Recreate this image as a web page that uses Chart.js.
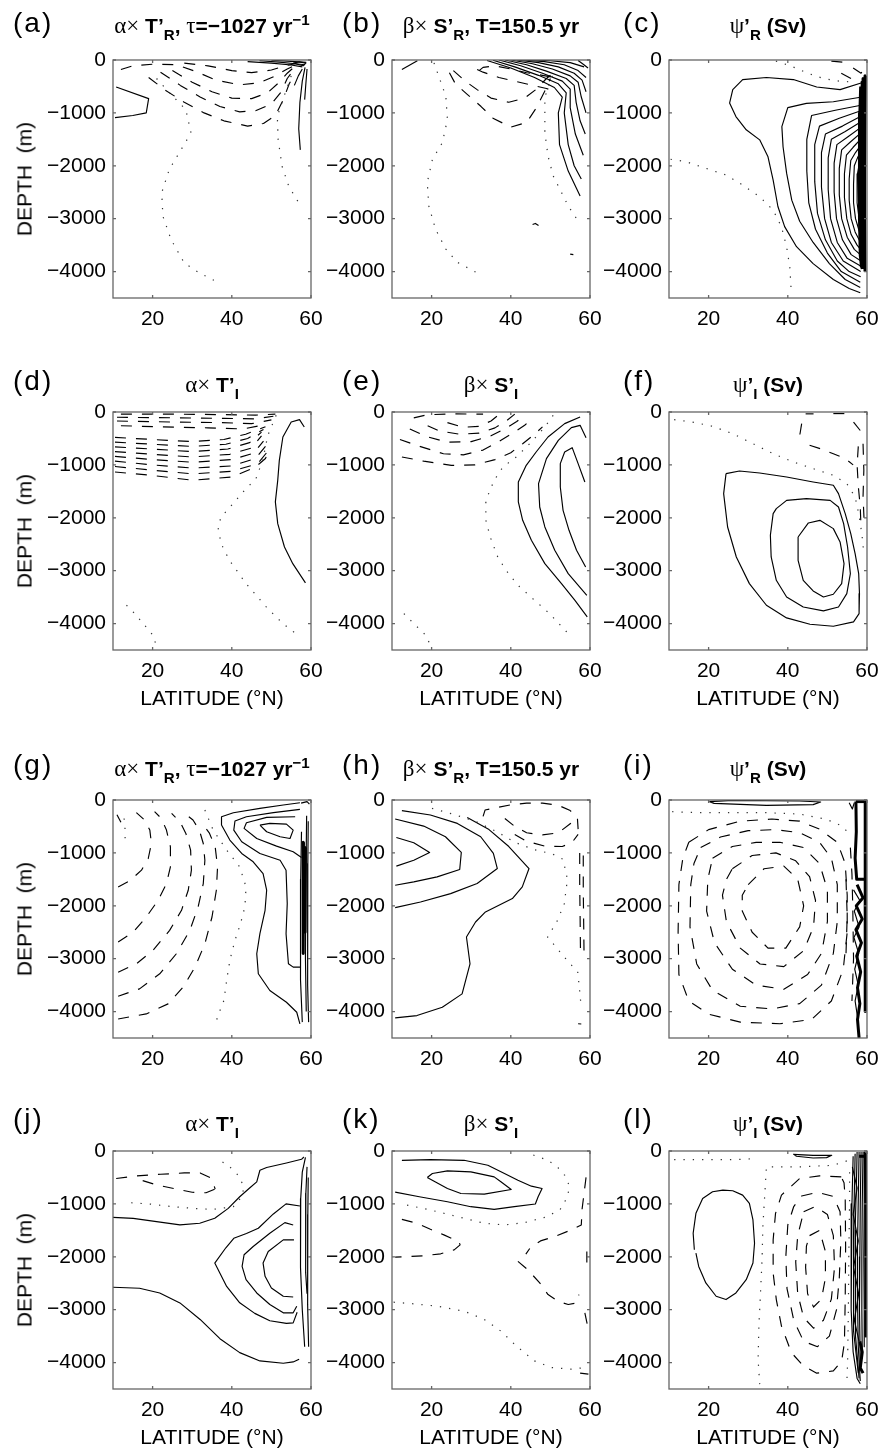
<!DOCTYPE html>
<html><head><meta charset="utf-8">
<script src="https://cdn.jsdelivr.net/npm/chart.js@4/dist/chart.umd.min.js"></script>
<style>
html,body{margin:0;padding:0;background:#fff;}
#wrap{position:relative;width:883px;height:1448px;overflow:hidden;background:#fff;}
canvas{position:absolute;}
.lbl{position:absolute;font-family:'Liberation Sans',Arial,sans-serif;font-size:28px;line-height:1;color:#000;letter-spacing:2px;}
.ttl{position:absolute;width:320px;text-align:center;font-family:'Liberation Sans',Arial,sans-serif;font-size:21px;line-height:1;white-space:nowrap;color:#000;}
.ttl b{font-weight:bold;}
.gk{font-family:'Liberation Serif','DejaVu Serif',serif;font-weight:normal;font-size:23px;}
.ttl sub{font-size:72%;vertical-align:-0.45em;line-height:0;}
.ttl sup{font-size:72%;vertical-align:0.55em;line-height:0;}
.xt{position:absolute;width:300px;text-align:center;font-family:'Liberation Sans',Arial,sans-serif;font-size:21px;line-height:1;white-space:pre;}
.yt{position:absolute;font-family:'Liberation Sans',Arial,sans-serif;font-size:21px;line-height:1;white-space:pre;transform:translate(-50%,-50%) rotate(-90deg);}
</style></head>
<body><div id="wrap"></div>
<script>
// ---------- axis ticks ----------
const latTicks = [20, 40, 60];
const depthTicks = [-4000, -3000, -2000, -1000, 0];
const panelKeys = ['a','b','c','d','e','f','g','h','i','j','k','l'];

// ---------- panel (a) ----------
const a_solid = [
 [[10.8,-510],[19,-730],[18.4,-1000],[15,-1050],[10.5,-1090]],
 [[44,-30],[50,-60],[55,-95],[57.8,-130]],
 [[47,-15],[52,-40],[56,-70],[58.5,-90]],
 [[50,-5],[54,-20],[58.8,-45]],
 [[55.5,-60],[57,-35],[58.7,-60],[58,-110],[55.5,-60]],
 [[58.5,-140],[57.8,-400],[57.2,-800],[56.9,-1300],[57.3,-1700]],
 [[59,-170],[58.7,-450],[58.4,-750]],
 [[57.8,-170],[56.8,-300],[55.8,-480]]
];
const a_dashed = [
 [[19,-330],[23,-560],[28,-800],[33,-1000],[38,-1150],[44,-1250],[48,-1200],[51,-1050],[53,-750],[54.5,-450],[56,-250]],
 [[22,-230],[27,-480],[32,-700],[37,-880],[42,-980],[46,-960],[50,-830],[52.5,-600],[54,-350],[55.5,-200]],
 [[25,-200],[30,-420],[35,-600],[40,-720],[45,-730],[49,-620],[52,-420],[54,-250],[55.5,-150]],
 [[12,-180],[15,-110],[20,-80],[26,-90],[31,-220],[36,-380],[42,-470],[47,-430],[51,-300],[54,-170],[56,-100]],
 [[28,-60],[34,-110],[40,-200],[45,-240],[50,-190],[53.5,-110],[56,-70]]
];
const a_dotted = [
 [[21,-350],[24,-600],[28.4,-940],[29.7,-1380],[27.2,-1695],[24.2,-2070],[22.3,-2510],[22.6,-2955],[24.7,-3400],[28,-3840],[31.8,-4025],[36.8,-4215]],
 [[55,-300],[53.5,-620],[51.5,-1065],[51.7,-1505],[52.7,-2010],[54.4,-2390],[56.9,-2700]]
];

// ---------- panel (b) ----------
const b_solid = [
 [[12.5,-180],[16.4,-15]],
 [[34,-10],[40,-150],[46,-330],[51,-520],[53,-700],[52,-1000],[52.3,-1600],[54.5,-2100],[57.5,-2570]],
 [[35.5,-5],[41,-130],[47,-290],[52,-450],[54,-620],[53.5,-1000],[54.5,-1600],[56,-2000],[57.8,-2250]],
 [[37,0],[42.5,-110],[48,-250],[53,-400],[55,-550],[55,-900],[56.3,-1400],[58.3,-1800]],
 [[38.5,0],[44,-90],[49,-210],[54,-350],[56,-480],[56.5,-800],[57.5,-1150],[58.8,-1400]],
 [[40,0],[45.5,-70],[50.5,-170],[55,-300],[57,-420],[57.8,-700],[59,-1000]],
 [[41.5,0],[47,-50],[52,-130],[56,-250],[58,-380],[59,-600]],
 [[43,0],[48.5,-30],[53.5,-90],[57,-200],[59,-330]],
 [[45,0],[50,-15],[55,-50],[58.5,-130]],
 [[57,-10],[58.3,-80],[59.5,-150]],
 [[45.5,-3110],[46.2,-3090],[47,-3130]]
];
const b_dashed = [
 [[24.5,-240],[26,-450],[29,-650],[32.5,-880],[35.5,-1100],[40,-1270],[44,-1180],[46.5,-900],[48.5,-600],[50,-350]],
 [[25.5,-200],[28.5,-400],[31.5,-560],[35,-720],[39.5,-800],[43.5,-720],[46.5,-550],[49,-350],[51,-230]],
 [[31.5,-180],[33,-230],[37,-330],[41,-400],[45,-470],[49,-540],[51.5,-600]],
 [[32,-200],[33,-140],[36,-110],[40,-170],[44,-240],[48,-290],[51,-330]],
 [[55,-3670],[55.8,-3680]]
];
const b_dotted = [
 [[20.6,-55],[23.6,-685],[24,-1125],[22.7,-1565],[20.2,-1880],[18.9,-2320],[19.3,-2760],[21,-3200],[23.6,-3575],[26.5,-3825],[32.5,-4065]],
 [[50.5,-300],[48.6,-700],[48.6,-1375],[49.4,-1815],[50.7,-2190],[52.8,-2505],[54.5,-2760],[57.5,-3100]]
];

// ---------- panel (c) ----------
const c_solid = [
 [[58.7,-430],[53.2,-560],[47.3,-510],[41.4,-370],[34.6,-330],[28.6,-370],[26.1,-560],[25.3,-815],[26.9,-1070],[29.5,-1320],[32.9,-1510],[35,-1830],[36.3,-2270],[37.5,-2770],[39.2,-3150],[42.2,-3530],[46.4,-3850],[51.5,-4150],[55.5,-4320],[58.3,-4400]],
 [[58.7,-700],[51.5,-790],[44.7,-820],[40,-900],[38.5,-1260],[38.8,-1640],[39.7,-2140],[41,-2650],[43,-3050],[46.4,-3450],[50.5,-3850],[54.5,-4150],[58.3,-4300]],
 [[58.8,-850],[52,-950],[46,-1050],[44.8,-1500],[44.8,-2100],[45.3,-2700],[47,-3200],[50,-3650],[53.5,-4000],[58.3,-4200]],
 [[58.8,-950],[53,-1100],[48,-1250],[46.8,-1600],[46.8,-2300],[47.5,-2900],[49.5,-3400],[52.5,-3800],[55.5,-4000],[58.4,-4100]],
 [[58.8,-1050],[53.8,-1250],[49.5,-1400],[48.5,-1750],[48.5,-2400],[49.3,-3000],[51,-3450],[54,-3800],[58.4,-4000]],
 [[58.9,-1150],[54.5,-1350],[51,-1500],[50.2,-1850],[50.2,-2450],[50.8,-3000],[52.5,-3450],[55,-3750],[58.5,-3900]],
 [[58.9,-1250],[55.2,-1450],[52.4,-1600],[51.7,-1950],[51.7,-2500],[52.3,-3000],[53.8,-3400],[56,-3680],[58.5,-3800]],
 [[58.9,-1350],[55.8,-1550],[53.6,-1700],[53,-2050],[53,-2550],[53.6,-3000],[55,-3350],[56.8,-3580],[58.6,-3700]],
 [[59,-1450],[56.5,-1650],[54.8,-1800],[54.3,-2150],[54.3,-2600],[54.9,-3000],[56,-3300],[57.5,-3500],[58.6,-3600]],
 [[59,-1550],[57.1,-1750],[55.9,-1900],[55.5,-2250],[55.5,-2650],[56,-3000],[57,-3250],[58.7,-3500]],
 [[59,-1650],[57.6,-1850],[56.8,-2000],[56.6,-2350],[56.6,-2700],[57.1,-3000],[57.9,-3200],[58.8,-3400]],
 [[59.1,-1750],[58.1,-1950],[57.6,-2150],[57.5,-2700],[58,-3000],[58.9,-3300]]
];
const c_thick = [
 [[58.4,-500],[58.2,-1000],[58.1,-2000],[58.1,-3000],[58.3,-3700],[58.8,-3950]],
 [[58.8,-400],[58.6,-1000],[58.5,-2000],[58.5,-3000],[58.6,-3900]],
 [[59.2,-350],[59,-1000],[58.9,-2000],[58.9,-3000],[59,-3950]],
 [[59.6,-300],[59.5,-1000],[59.4,-2000],[59.4,-3000],[59.5,-4000]]
];
const c_dashed = [
 [[51,-20],[55,-50]],
 [[53.5,-250],[56,-350]],
 [[56.5,-150],[58.5,-250],[59.3,-150]]
];
const c_dotted = [
 [[10.4,-1877],[14.2,-1921],[19.3,-2048],[24.4,-2174],[28.6,-2364],[32.9,-2585],[36.3,-2838],[38.4,-3154],[39.7,-3533],[40.5,-3912],[40.9,-4418]],
 [[37,-20],[41,-120],[45,-250],[49,-350],[53,-400],[57,-420]]
];

// ---------- panel (d) ----------
const d_solid = [
 [[58.3,-284],[57.1,-145],[55,-189],[52.9,-473],[52,-914],[51.6,-1292],[51,-1700],[51.6,-2111],[53.3,-2552],[55.4,-2867],[58.6,-3232]]
];
const d_dashed = [
 [[12,-40],[25,-40],[38,-50],[46,-60],[51,-40]],
 [[11,-100],[25,-110],[38,-120],[46,-130],[50.5,-80]],
 [[11,-170],[25,-190],[37,-200],[45,-220],[50,-150]],
 [[12,-260],[22,-280],[34,-300],[43,-320],[49,-230]],
 [[10.5,-480],[20,-520],[30,-560],[38,-520],[43.5,-420],[48.5,-280]],
 [[10.5,-570],[20,-610],[30,-650],[38.5,-610],[44,-500],[48,-330]],
 [[10.5,-660],[20,-700],[30,-750],[39,-700],[44.5,-580],[47.5,-380]],
 [[10.5,-750],[20,-800],[30,-850],[39.5,-800],[45,-680],[47.5,-450]],
 [[10.5,-840],[20,-900],[30,-950],[40,-900],[45.5,-780],[48,-550]],
 [[10.5,-930],[20,-1000],[30,-1060],[40,-1020],[46,-880],[48.5,-650]],
 [[10.5,-1030],[20,-1100],[30,-1170],[40,-1120],[46.5,-980],[49,-750]],
 [[10.5,-1135],[20,-1200],[30,-1290],[40,-1230],[46,-1040],[48.5,-880],[49.5,-700]]
];
const d_dotted = [
 [[51.2,-63],[49.1,-441],[47.8,-914],[46.1,-1260],[43.2,-1481],[40.3,-1733],[37.3,-1985],[36.5,-2174],[37.3,-2489],[39.4,-2804],[43.6,-3245],[48.7,-3686],[52.9,-4001],[56.2,-4190]],
 [[13.4,-3654],[15.5,-3812],[18,-4032],[20.1,-4221],[20.9,-4410]]
];

// ---------- panel (e) ----------
const e_solid = [
 [[57.5,-95],[53.6,-220],[49.4,-473],[46.4,-756],[43.9,-1008],[41.9,-1323],[41.9,-1701],[43,-2048],[45.2,-2426],[48.6,-2867],[52.8,-3245],[56.2,-3560],[59.3,-3875]],
 [[59,-485],[57.5,-252],[55.3,-296],[52,-536],[49,-882],[47,-1355],[47.3,-1796],[48.6,-2174],[51.1,-2615],[54.5,-3056],[59.2,-3465]],
 [[58.7,-1323],[57,-977],[55.5,-674],[53.6,-756],[52.5,-977],[52.5,-1418],[53.2,-1859],[54.7,-2237],[56.6,-2615],[58.9,-2930]]
];
const e_dashed = [
 [[12.5,-850],[18,-930],[25,-1010],[31,-1000],[36,-900],[40,-770],[43,-600],[46,-420],[48,-280]],
 [[12,-520],[17,-650],[23,-790],[28,-810],[33,-720],[37,-560],[40.5,-400],[43.5,-250],[45.5,-120]],
 [[14.5,-320],[18.5,-460],[24,-570],[30,-560],[35,-450],[38.5,-320],[41.5,-180],[43.5,-60]],
 [[19,-260],[22,-360],[27,-420],[32,-400],[36,-300],[39,-160],[41,-40]],
 [[24,-200],[28,-290],[32,-270],[35,-170],[37,-50]],
 [[15.5,-110],[19,-50],[26,-35],[33,-40]]
];
const e_dotted = [
 [[50.7,-63],[48.6,-284],[45.2,-567],[41.4,-851],[38,-1040],[35.8,-1292],[33.7,-1670],[33.7,-2048],[34.8,-2363],[36.7,-2741],[38.8,-2993],[41.8,-3276],[46,-3560],[49.8,-3812],[54.1,-4158]],
 [[13,-3812],[15.5,-4000],[18.5,-4221],[19.7,-4410]]
];

// ---------- panel (f) ----------
const f_solid = [
 [[24.4,-1166],[27.8,-1115],[32.9,-1153],[39.7,-1229],[46.4,-1323],[51.5,-1386],[52.8,-1544],[54.5,-1922],[55.9,-2300],[57,-2678],[57.9,-3056],[58.1,-3434],[58,-3812],[56.6,-3969],[51.5,-4051],[45.6,-4013],[39.7,-3893],[34.6,-3654],[30.3,-3245],[27,-2741],[24.8,-2174],[23.8,-1544],[24.4,-1166]],
 [[37.1,-1827],[39.7,-1670],[44.7,-1638],[50.7,-1670],[52.8,-1796],[54.1,-2111],[55.1,-2552],[55.8,-3056],[54.9,-3434],[52.8,-3686],[49,-3761],[43.9,-3686],[39.7,-3497],[37.1,-3182],[35.8,-2741],[35.6,-2331],[36.3,-1922],[37.1,-1827]],
 [[42.6,-2363],[45.2,-2098],[48.1,-2048],[51.5,-2205],[53.2,-2457],[54.2,-2867],[53.6,-3245],[51.5,-3446],[49,-3497],[46.4,-3383],[43.9,-3182],[42.6,-2804],[42.6,-2363]]
];
const f_dashed = [
 [[44.5,-35],[46.5,-35]],
 [[51.5,-30],[55,-30]],
 [[43.5,-220],[43,-450]],
 [[45.5,-630],[48.5,-700],[51.5,-790],[54.5,-880],[56.5,-1000]],
 [[56.6,-190],[58.3,-350]],
 [[57.8,-650],[57.5,-1000],[57.8,-1400],[58.3,-1800],[58.5,-2200]],
 [[59,-600],[59.2,-1100],[59,-1600],[59.3,-2100]]
];
const f_dotted = [
 [[11.3,-145],[15.9,-189],[21,-271],[26.1,-410],[31.2,-599],[36.3,-788],[41.4,-945],[46.4,-1071],[51.5,-1197],[54.9,-1355],[57,-1607],[57.9,-1922],[58.7,-2300],[59.2,-2678]]
];

// ---------- panel (g) ----------
const g_solid = [
 [[57.2,-51],[53,-95],[47.1,-158],[40.4,-240],[37.4,-316],[37.4,-474],[39.5,-758],[42.5,-1011],[45.4,-1169],[47.9,-1390],[48.8,-1706],[48.4,-2086],[47.1,-2528],[46.3,-2907],[46.7,-3286],[49.6,-3602],[53.8,-3824],[56.4,-4013],[57.2,-4234]],
 [[57.2,-177],[50.5,-240],[43.7,-316],[40.8,-398],[40.5,-569],[42.5,-790],[47.1,-1011],[52.2,-1138],[53.7,-1327],[54,-1959],[53.7,-2528],[54.3,-3097],[55.5,-3160],[57.3,-3160]],
 [[56,-316],[48.8,-329],[43.7,-430],[43.1,-537],[46.3,-727],[51.3,-872],[55.5,-980],[57.6,-1087]],
 [[47.1,-474],[49.6,-442],[53.8,-455],[55.5,-569],[54.7,-727],[52.2,-695],[48.8,-600],[47.1,-474]],
 [[57.6,-600],[57.4,-1500],[57.3,-2500],[57.4,-3400],[57.8,-4200]],
 [[59.3,-400],[59.2,-1200],[59.1,-2500],[59.2,-3500],[59.4,-4200]],
 [[58.9,-300],[58.7,-1500],[58.6,-3000],[58.8,-4000]],
 [[57.5,-60],[59,-30],[59.6,-80]]
];
const g_thick = [
 [[58.1,-800],[58,-1500],[58,-2300],[58.1,-2900]],
 [[58.6,-900],[58.5,-1800],[58.5,-2500]]
];
const g_dashed = [
 [[11,-280],[12,-420]],
 [[11.3,-1643],[14.2,-1529],[17.2,-1327],[18.9,-1106],[19.7,-822],[19.3,-569],[18,-379],[15.9,-240]],
 [[11.3,-2686],[15.1,-2496],[18.4,-2212],[21.4,-1896],[23.5,-1580],[24.5,-1264],[24.5,-885],[23.5,-569],[22.2,-348],[20.5,-221]],
 [[11.3,-3255],[15.9,-3097],[20.1,-2844],[24.3,-2465],[27.3,-2086],[29,-1706],[29.8,-1327],[29.6,-948],[28.4,-632],[26.9,-411],[24.8,-253]],
 [[11.3,-3710],[16.7,-3571],[21.8,-3286],[26,-2907],[29.4,-2465],[31.5,-2022],[32.8,-1580],[33.2,-1138],[32.8,-822],[31.8,-569],[30.2,-379],[28.6,-284]],
 [[11.3,-4140],[18.4,-4045],[23.9,-3855],[27.7,-3539],[30.7,-3160],[33.2,-2718],[35,-2212],[36.1,-1706],[36.4,-1264],[35.8,-885],[34.3,-620],[32.3,-420]]
];
const g_dotted = [
 [[12.8,-350],[13.1,-600],[13,-850]],
 [[33.2,-190],[35.3,-569],[38.7,-948],[42,-1264],[43.6,-1643],[43.3,-2022],[42.2,-2338],[40.8,-2654],[39.5,-3034],[38.7,-3413],[38,-3792],[37,-3982],[36.1,-4171]]
];

// ---------- panel (h) ----------
const h_solid = [
 [[11.1,-708],[15.5,-809],[19.5,-992],[15.5,-1138],[11.1,-1251]],
 [[10.8,-360],[18,-493],[23.5,-695],[27.5,-992],[27.1,-1315],[21.4,-1454],[15.5,-1548],[10.8,-1612]],
 [[12.5,-202],[19.7,-284],[26.5,-442],[32.4,-695],[35.6,-1011],[36.6,-1296],[31.5,-1580],[24.8,-1770],[17.2,-1928],[10.8,-2035]],
 [[29,-330],[34.5,-560],[39.5,-880],[44.6,-1296],[42.9,-1643],[40.4,-1864],[33.6,-2117],[31.1,-2307],[28.8,-2591],[29.7,-3097],[27.7,-3666],[22.7,-3918],[16.3,-4076],[10.8,-4120]]
];
const h_dashed = [
 [[33,-310],[33.5,-190],[36,-150],[40,-90],[44,-60],[48,-60],[52,-100],[55,-200],[56.8,-320],[57,-550]],
 [[38.5,-350],[41,-500],[44,-620],[48,-660],[52,-620],[55,-450],[56.5,-300]],
 [[41,-650],[44,-780],[48.5,-870],[53,-880],[55.5,-800],[57,-650]],
 [[57.4,-1000],[57.4,-1600],[57.5,-2200],[57.6,-2900]],
 [[58.3,-1050],[58.3,-1700],[58.4,-2300],[58.5,-2950]],
 [[57,-4230],[57.8,-4235]]
];
const h_dotted = [
 [[20.1,-158],[25,-260],[31,-400],[36.5,-600],[41,-800],[46,-940],[50.5,-1020],[53.2,-1120],[54.3,-1500],[53.5,-1960],[51.8,-2275],[49.3,-2591],[53.5,-2970],[56.9,-3255],[57.3,-3539],[57.7,-3855]]
];

// ---------- panel (i) ----------
const i_solid = [
 [[20.2,-32],[26.1,-6],[43,-19],[48.3,-38],[46.4,-88],[34.6,-101],[21.4,-63],[20.2,-32]],
 [[55.5,-50],[56.3,-170],[56.8,-50]],
 [[56.6,-1700],[58.2,-1900],[56.8,-2100],[58,-2400],[56.7,-2600],[57.9,-2900],[56.9,-3200],[57.8,-3500],[57,-3800],[57.6,-4100]]
];
const i_thick = [
 [[57.2,-30],[57.3,-600],[57,-1100],[57.4,-1500],[59.4,-1500]],
 [[59.6,-30],[59.6,-2500],[59.5,-4000]],
 [[57.2,-30],[59.6,-30]],
 [[57.5,-1600],[59,-1850],[57.3,-2000],[58.8,-2250],[57.2,-2450],[58.6,-2700],[57.4,-2950],[58.4,-3250],[57.6,-3550],[58.2,-3850],[57.6,-4150],[58,-4500]]
];
const i_dashed = [
 [[15,-800],[20,-560],[28,-400],[36,-360],[43,-400],[48,-550],[52.5,-800],[54.5,-1200],[55,-1800],[55,-2500],[54,-3200],[51,-3800],[46,-4150],[38,-4230],[28,-4200],[20,-4050],[15,-3800],[12.5,-3300],[12.3,-2500],[12.5,-1600],[13.5,-1100],[15,-800]],
 [[18,-900],[23,-700],[30,-580],[37,-560],[43,-620],[48,-800],[51,-1100],[52.5,-1600],[52.5,-2300],[51.5,-2900],[48.5,-3500],[43,-3850],[36,-3950],[28,-3900],[21,-3600],[17,-3100],[15.3,-2400],[15.5,-1600],[16.3,-1200],[18,-900]],
 [[21,-1100],[26,-880],[32,-800],[38,-800],[44,-900],[48,-1200],[50,-1700],[50,-2300],[48.5,-2900],[45,-3300],[39,-3580],[32,-3500],[26,-3200],[21.5,-2700],[19.5,-2100],[19.8,-1500],[21,-1100]],
 [[26,-1300],[31,-1050],[37,-1000],[42,-1150],[45.5,-1450],[47,-1900],[46.5,-2400],[44,-2850],[39,-3150],[33,-3100],[28,-2800],[24.5,-2300],[23.5,-1800],[24.5,-1500],[26,-1300]],
 [[30,-1600],[34,-1300],[39,-1250],[42.5,-1500],[44,-2000],[43,-2400],[39.5,-2800],[35,-2800],[31,-2500],[28.5,-2100],[28.5,-1800],[30,-1600]],
 [[55.8,-900],[56.2,-1400],[56.4,-2000],[56.6,-3000],[56.2,-3800]],
 [[54.7,-1500],[55,-2200],[54.7,-2900]]
];
const i_dotted = [
 [[10.8,-221],[17.6,-240],[26.1,-240],[34.6,-240],[43,-265],[49.8,-367],[53.2,-474],[55.6,-632]]
];

// ---------- panel (j) ----------
const j_solid = [
 [[10,-1254],[15.1,-1273],[21,-1336],[26.9,-1398],[31.9,-1367],[35.7,-1273],[39.1,-1085],[42,-865],[44.5,-700],[46.3,-583],[47.1,-364],[48.8,-313],[53.8,-226],[57.6,-157],[58.2,-113]],
 [[10,-2577],[16.7,-2596],[21.8,-2684],[26.9,-2872],[32,-3185],[37,-3549],[42,-3812],[47.1,-3969],[53,-4013],[55.5,-3988],[57,-3938]],
 [[57.2,-1040],[53.7,-1000],[50.5,-1190],[46.7,-1460],[43.7,-1560],[40.5,-1650],[38.5,-1830],[35.7,-2119],[38.7,-2560],[42,-2870],[45.8,-3070],[49.6,-3210],[53.8,-3260],[55.5,-3250],[56.5,-3050]],
 [[55.5,-1398],[53.4,-1354],[49.6,-1555],[45.4,-1806],[43.1,-1962],[42.6,-2182],[43.6,-2433],[46.3,-2684],[49.6,-2903],[53,-3060],[55.5,-3060],[56.4,-2934]],
 [[55.7,-1680],[53,-1680],[49.2,-1900],[47.9,-2119],[48.4,-2370],[50,-2590],[53,-2746],[55.5,-2760]],
 [[58.6,-120],[57.8,-400],[57.4,-900],[57.3,-1500],[57.4,-2200],[57.8,-3000],[58.4,-3700]],
 [[59,-300],[58.7,-800],[58.6,-1500],[58.7,-2300],[59,-2700]],
 [[59.3,-500],[59.2,-1200],[59.1,-2000],[59.2,-2900],[59.4,-3700]]
];
const j_dashed = [
 [[10.8,-520],[16,-470],[22,-440],[28,-415],[32,-415],[34.5,-500],[35.5,-650],[35.8,-720]],
 [[17.5,-560],[21,-640],[26,-720],[30,-780],[33.5,-790],[35.8,-720]]
];
const j_dotted = [
 [[14.6,-978],[19.3,-1003],[25.2,-1053],[30.2,-1085],[35.3,-1104],[40.4,-1053],[42.5,-865],[43.1,-677],[41.6,-458],[39.5,-301],[37,-176]]
];

// ---------- panel (k) ----------
const k_solid = [
 [[12.5,-176],[19.7,-163],[28.2,-176],[34.2,-270],[38.4,-426],[41.8,-552],[45.2,-665],[47.9,-709],[46.9,-865],[46.2,-1003],[40.9,-1053],[35.8,-1104],[29.9,-1053],[24,-959],[16.9,-865],[10.8,-777]],
 [[18.9,-502],[20.2,-426],[24,-376],[29.9,-395],[35.8,-489],[37.5,-583],[40.1,-727],[33.3,-815],[27.4,-803],[24,-708],[18.9,-502]]
];
const k_dashed = [
 [[12.5,-1292],[16.4,-1367],[19.7,-1480],[23.1,-1586],[26.9,-1712],[27.2,-1775],[25.7,-1869],[22.3,-1944],[18.1,-1981],[10.8,-2006]],
 [[59,-500],[58.5,-800],[58,-1100],[57.8,-1400],[55,-1500],[51,-1620],[47.5,-1700],[45,-1820],[43.8,-1950]],
 [[41.8,-2088],[44.3,-2245],[47.3,-2495],[49.4,-2715],[51.9,-2840],[54.5,-2903],[56.6,-2872],[57.2,-2715]],
 [[59.2,-1900],[59.2,-2120]],
 [[58.7,-3060],[59.4,-3310]],
 [[57.5,-4200],[59.6,-4220]]
];
const k_dotted = [
 [[13.8,-1022],[19.7,-1116],[26.5,-1241],[33.3,-1367],[38.4,-1398],[43.5,-1354],[48.6,-1254],[52.4,-1116],[54.1,-897],[54.9,-677],[53.6,-458],[51.9,-313],[49.4,-176],[45.2,-63]],
 [[10.4,-2859],[15.5,-2890],[21.4,-2934],[28.2,-3028],[33.3,-3185],[37.5,-3405],[41.4,-3687],[46,-3969],[50.3,-4094],[55.3,-4126],[58.7,-4094]]
];

// ---------- panel (l) ----------
const l_solid = [
 [[16.4,-1868],[16.1,-1555],[16.8,-1179],[18.5,-897],[21,-771],[23.6,-740],[26.1,-752],[28.6,-834],[30.3,-991],[31.2,-1304],[31.6,-1743],[31.2,-2119],[29.5,-2433],[26.9,-2684],[24.4,-2809],[21.9,-2746],[19.3,-2495],[17.5,-2182],[16.8,-1931]],
 [[41.4,-63],[46.4,-82],[51.1,-82],[49.8,-125],[46.4,-132],[42.2,-100],[41.4,-63]],
 [[56.5,-100],[56.2,-1000],[56,-2000],[56,-3000],[56.5,-3800],[57.5,-4300],[58.3,-4400]],
 [[57,-50],[56.8,-800],[56.6,-1600],[56.5,-2500],[56.7,-3400],[57.8,-4200]],
 [[57.5,-20],[57.3,-700],[57,-1500],[57,-2500],[57.2,-3500],[58,-4300]],
 [[58,-20],[57.8,-900],[57.6,-1800],[57.6,-2800],[57.8,-3700],[58.3,-4350]],
 [[58.5,-20],[58.3,-1000],[58.2,-2000],[58.1,-3000],[58.3,-4000]],
 [[59,-20],[58.8,-1000],[58.7,-2000],[58.7,-3000],[58.8,-3800]],
 [[59.4,-20],[59.3,-1000],[59.2,-2000],[59.3,-3000],[59.3,-3700]],
 [[56.3,-300],[57.5,-700],[56.5,-1200],[57.8,-1700],[56.6,-2200],[57.9,-2700],[56.8,-3200],[58,-3600]]
];
const l_thick = [
 [[58.2,-3600],[58.8,-3800],[58.3,-4100],[59,-4200]],
 [[59.7,-50],[59.7,-3500]],
 [[58,-100],[59.5,-100]]
];
const l_dashed = [
 [[53.5,-489],[48,-470],[43,-520],[38.4,-834],[36.9,-1179],[36.3,-1680],[36.3,-2307],[37.1,-2809],[38.4,-3311],[40.9,-3812],[43.9,-4063],[47.3,-4201],[51.5,-4157],[53.6,-3969],[54.3,-3624],[54.5,-2800],[54.6,-1800],[54.5,-900],[54.2,-600],[53.5,-489]],
 [[43.5,-850],[47.5,-780],[51.5,-860],[53.2,-1150],[53.4,-1700],[53,-2400],[52.3,-3000],[50.5,-3500],[47.5,-3700],[44,-3600],[41.5,-3200],[39.8,-2600],[39.5,-2000],[40,-1400],[41.5,-1050],[43.5,-850]],
 [[44,-1150],[47,-1050],[50,-1200],[51.5,-1600],[51.8,-2200],[51,-2800],[49,-3200],[46.5,-3350],[44,-3150],[42.5,-2700],[42,-2100],[42.5,-1600],[44,-1150]],
 [[45.5,-1600],[48,-1500],[49.5,-1900],[49.5,-2400],[48.5,-2800],[46.5,-2950],[45,-2700],[44.5,-2200],[44.7,-1800],[45.5,-1600]]
];
const l_dotted = [
 [[11.3,-163],[20,-165],[28,-160],[32,-144]],
 [[54.9,-188],[51.5,-270],[43,-301],[34.6,-301],[34.2,-803],[33.7,-1430],[33.5,-2057],[33.1,-2684],[32.7,-3311],[32.5,-3938],[32.9,-4408]],
 [[55.6,-400],[55.6,-1000],[55.4,-2000],[55.3,-3000],[55.1,-4000],[54.9,-4400]]
];

// ---------- panel texts ----------
const panelLabels = ['(a)','(b)','(c)','(d)','(e)','(f)','(g)','(h)','(i)','(j)','(k)','(l)'];
const titleHtml = [
 '<span class="gk">α×</span> <b>T’<sub>R</sub>, </b><span class="gk">τ</span><b>=−1027 yr<sup>−1</sup></b>',
 '<span class="gk">β×</span> <b>S’<sub>R</sub>, T=150.5 yr</b>',
 '<span class="gk">ψ</span><b>’<sub>R</sub> (Sv)</b>',
 '<span class="gk">α×</span> <b>T’<sub>I</sub></b>',
 '<span class="gk">β×</span> <b>S’<sub>I</sub></b>',
 '<span class="gk">ψ</span><b>’<sub>I</sub> (Sv)</b>'
];
const xTitle = 'LATITUDE (°N)';
const yTitle = 'DEPTH  (m)';

// ---------- layout ----------
const colLeft = [113, 392, 669];
const rowTop = [60, 412, 800, 1151];
const PW = 198, PH = 238, AXW = 100, AXH = 40, PADT = 24, PADR = 24;
const labelLeft = [13, 342, 623];
const labelTop = [9, 367, 751, 1105];
const titleTop = [14, 373, 757, 1112];
const xTitleTop = [687, 1426];

const DATA = {
 a:{solid:a_solid,dashed:a_dashed,dotted:a_dotted,thick:[]},
 b:{solid:b_solid,dashed:b_dashed,dotted:b_dotted,thick:[]},
 c:{solid:c_solid,dashed:c_dashed,dotted:c_dotted,thick:c_thick},
 d:{solid:d_solid,dashed:d_dashed,dotted:d_dotted,thick:[]},
 e:{solid:e_solid,dashed:e_dashed,dotted:e_dotted,thick:[]},
 f:{solid:f_solid,dashed:f_dashed,dotted:f_dotted,thick:[]},
 g:{solid:g_solid,dashed:g_dashed,dotted:g_dotted,thick:g_thick},
 h:{solid:h_solid,dashed:h_dashed,dotted:h_dotted,thick:[]},
 i:{solid:i_solid,dashed:i_dashed,dotted:i_dotted,thick:i_thick},
 j:{solid:j_solid,dashed:j_dashed,dotted:j_dotted,thick:[]},
 k:{solid:k_solid,dashed:k_dashed,dotted:k_dotted,thick:[]},
 l:{solid:l_solid,dashed:l_dashed,dotted:l_dotted,thick:l_thick}
};

const STYLE = {
 solid:{dash:[], width:1.15, color:'#000'},
 dashed:{dash:[11,10], width:1.15, color:'#000'},
 dotted:{dash:[1.3,8], width:1.2, color:'#333'},
 thick:{dash:[], width:3, color:'#000'}
};

function makeSets(lines, kind){
 const s = STYLE[kind];
 return lines.map(pts => ({
  data: pts.map(p => ({x:p[0], y:p[1]})),
  showLine:true, pointRadius:0, pointHoverRadius:0,
  borderColor:s.color, borderWidth:s.width, borderDash:s.dash,
  borderCapStyle:'butt', borderJoinStyle:'round', fill:false, tension:0
 }));
}

const fmt = v => (v < 0 ? '\u2212' + Math.abs(v) : String(v));

const framePlugin = {
 id:'frame',
 afterDatasetsDraw(chart){
  const {ctx, chartArea:ca, scales} = chart;
  const xs = scales.x, ys = scales.y;
  ctx.save();
  ctx.strokeStyle = '#666'; ctx.lineWidth = 1.3; ctx.setLineDash([]);
  ctx.strokeRect(ca.left, ca.top, ca.right-ca.left, ca.bottom-ca.top);
  ctx.beginPath();
  latTicks.forEach(v => { const px = xs.getPixelForValue(v);
   ctx.moveTo(px, ca.bottom); ctx.lineTo(px, ca.bottom-3);
   ctx.moveTo(px, ca.top); ctx.lineTo(px, ca.top+3); });
  depthTicks.forEach(v => { const py = ys.getPixelForValue(v);
   ctx.moveTo(ca.left, py); ctx.lineTo(ca.left+3, py);
   ctx.moveTo(ca.right, py); ctx.lineTo(ca.right-3, py); });
  ctx.stroke();
  ctx.restore();
 }
};

const wrap = document.getElementById('wrap');
const tickFont = {family:"'Liberation Sans', Arial, sans-serif", size:21};

panelKeys.forEach((key, idx) => {
 const row = Math.floor(idx/3), col = idx%3;
 const cv = document.createElement('canvas');
 const W = AXW+PW+PADR, H = PADT+PH+AXH;
 cv.width = W; cv.height = H;
 cv.style.width = W+'px'; cv.style.height = H+'px';
 cv.style.left = (colLeft[col]-AXW)+'px';
 cv.style.top = (rowTop[row]-PADT)+'px';
 wrap.appendChild(cv);
 const d = DATA[key];
 const datasets = [].concat(
  makeSets(d.dotted,'dotted'), makeSets(d.dashed,'dashed'),
  makeSets(d.solid,'solid'), makeSets(d.thick,'thick'));
 new Chart(cv.getContext('2d'), {
  type:'scatter',
  data:{datasets},
  options:{
   responsive:false, animation:false, devicePixelRatio:1,
   layout:{padding:{top:PADT, right:PADR, left:0, bottom:0}},
   plugins:{legend:{display:false}, tooltip:{enabled:false}},
   scales:{
    x:{type:'linear', position:'bottom', min:10, max:60,
     afterBuildTicks:s => { s.ticks = latTicks.map(v => ({value:v})); },
     afterFit:s => { s.height = AXH; },
     grid:{display:false, drawTicks:false}, border:{display:false},
     ticks:{padding:9, color:'#000', font:tickFont, callback:fmt, maxRotation:0, autoSkip:false}},
    y:{type:'linear', position:'left', min:-4500, max:0,
     afterBuildTicks:s => { s.ticks = depthTicks.map(v => ({value:v})); },
     afterFit:s => { s.width = AXW; },
     grid:{display:false, drawTicks:false}, border:{display:false},
     ticks:{padding:7, color:'#000', font:tickFont, callback:fmt, autoSkip:false}}
   }
  },
  plugins:[framePlugin]
 });

 const lb = document.createElement('div');
 lb.className = 'lbl'; lb.textContent = panelLabels[idx];
 lb.style.left = labelLeft[col]+'px'; lb.style.top = labelTop[row]+'px';
 wrap.appendChild(lb);

 const tt = document.createElement('div');
 tt.className = 'ttl'; tt.innerHTML = titleHtml[(row%2)*3+col];
 tt.style.left = (colLeft[col]+PW/2-160)+'px'; tt.style.top = titleTop[row]+'px';
 wrap.appendChild(tt);

 if (col === 0) {
  const yt = document.createElement('div');
  yt.className = 'yt'; yt.textContent = yTitle;
  yt.style.left = '24px'; yt.style.top = (rowTop[row]+PH/2)+'px';
  wrap.appendChild(yt);
 }
 if (row % 2 === 1) {
  const xt = document.createElement('div');
  xt.className = 'xt'; xt.textContent = xTitle;
  xt.style.left = (colLeft[col]+PW/2-150)+'px'; xt.style.top = xTitleTop[(row-1)/2]+'px';
  wrap.appendChild(xt);
 }
});
</script>
</body></html>
